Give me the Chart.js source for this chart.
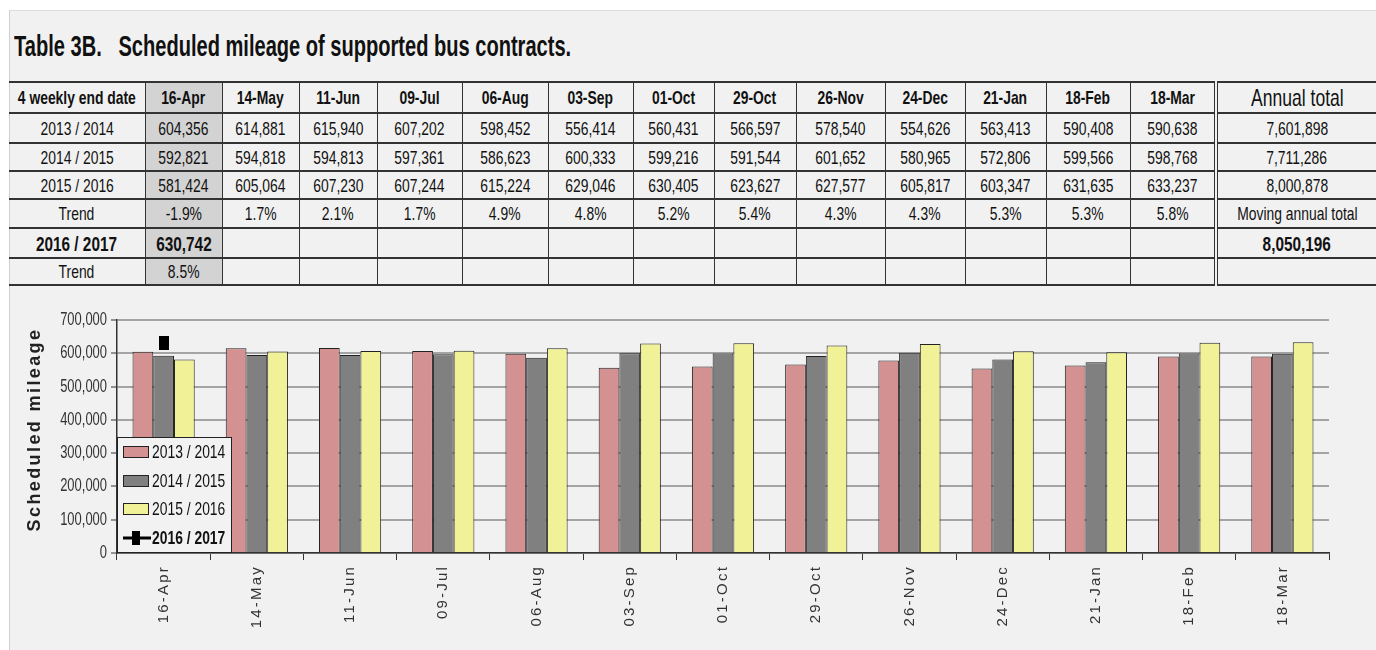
<!DOCTYPE html>
<html lang="en">
<head>
    <meta charset="UTF-8">
    <title>Table 3B. Scheduled mileage of supported bus contracts</title>
    <script src="https://cdn.jsdelivr.net/npm/chart.js"></script>
    <style>
        body { margin: 0; background: #fff; width: 1376px; height: 650px; overflow: hidden; position: relative;
               font-family: 'Liberation Sans', Arial, sans-serif; }
        .panel { position: absolute; left: 9px; top: 10px; right: 0; bottom: 0; background: #f1f1f1;
                 border-left: 1px solid #cfcfcf; border-top: 1px solid #dcdcdc; }
        .title { position: absolute; left: 14px; top: 30px; font: bold 29px 'Liberation Sans', Arial, sans-serif;
                 color: #111; white-space: pre; transform-origin: left center; }
        table { position: absolute; left: 9px; top: 81px; width: 1367px; border-collapse: collapse; table-layout: fixed;
                font-size: 19px; color: #111; }
        td { border-top: 2px solid #333; border-bottom: 2px solid #333; border-left: 1px solid #333; text-align: center;
             padding: 0; white-space: nowrap; overflow: visible; line-height: 1; }
        td span { display: inline-block; transform: scaleX(0.73); margin: 0 -40px; }
        td:first-child { border-left: none; }
        td.total { border-left: 4px double #333; }
        td.shade { background: #d3d3d3; }
        tr.head td { font-weight: bold; }
        tr.head td.total { font-weight: normal; font-size: 24px; }
        .big { font-weight: bold; font-size: 21px; }
        .chart-container { position: absolute; left: 10px; top: 286px; width: 1366px; height: 364px; }
    </style>
</head>
<body>
    <div class="panel"></div>
    <div class="title" id="title">Table 3B.   Scheduled mileage of supported bus contracts.</div>
    <table id="dataTable"></table>
    <div class="chart-container">
        <canvas id="mileageChart"></canvas>
    </div>

    <script>
        // categories (4 weekly end dates)
        const categories = ['16-Apr', '14-May', '11-Jun', '09-Jul', '06-Aug', '03-Sep', '01-Oct', '29-Oct', '26-Nov', '24-Dec', '21-Jan', '18-Feb', '18-Mar'];

        // scheduled mileage per year
        const y2013 = [604356, 614881, 615940, 607202, 598452, 556414, 560431, 566597, 578540, 554626, 563413, 590408, 590638];
        const y2014 = [592821, 594818, 594813, 597361, 586623, 600333, 599216, 591544, 601652, 580965, 572806, 599566, 598768];
        const y2015 = [581424, 605064, 607230, 607244, 615224, 629046, 630405, 623627, 627577, 605817, 603347, 631635, 633237];
        const y2016 = [630742, null, null, null, null, null, null, null, null, null, null, null, null];

        const trend = ['-1.9%', '1.7%', '2.1%', '1.7%', '4.9%', '4.8%', '5.2%', '5.4%', '4.3%', '4.3%', '5.3%', '5.3%', '5.8%'];
        const trend2016 = ['8.5%'];
        const annualTotals = ['7,601,898', '7,711,286', '8,000,878'];
        const movingAnnualTotal = '8,050,196';

        const yearLabels = ['2013 / 2014', '2014 / 2015', '2015 / 2016', '2016 / 2017'];
        const yMax = 700000;
        const yStep = 100000;

        const colWidths = [136, 77, 77, 78, 85, 86, 85, 81, 82, 89, 80, 81, 84, 86, 160];
        const rowHeights = [31, 30, 28, 28, 29, 30, 27];

        // squeeze the title to the width of the original
        const title = document.getElementById('title');
        title.style.transform = 'scaleX(' + (557 / title.offsetWidth) + ')';

        // ---- table ----
        const fmt = v => v.toLocaleString('en-US');
        function cell(text, i, extra) {
            let cls = [];
            if (i === 0) cls.push('shade');
            if (extra) cls.push(extra);
            return `<td class="${cls.join(' ')}"><span>${text}</span></td>`;
        }
        let html = '<colgroup>' + colWidths.map(w => `<col style="width:${w}px">`).join('') + '</colgroup>';
        html += `<tr class="head" style="height:${rowHeights[0]}px"><td><span>4 weekly end date</span></td>` +
            categories.map((c, i) => cell(c, i)).join('') + '<td class="total"><span>Annual total</span></td></tr>';
        [y2013, y2014, y2015].forEach((arr, r) => {
            html += `<tr style="height:${rowHeights[r + 1]}px"><td><span>${yearLabels[r]}</span></td>` +
                arr.map((v, i) => cell(fmt(v), i)).join('') + `<td class="total"><span>${annualTotals[r]}</span></td></tr>`;
        });
        html += `<tr style="height:${rowHeights[4]}px"><td><span>Trend</span></td>` + trend.map((t, i) => cell(t, i)).join('') +
            '<td class="total"><span>Moving annual total</span></td></tr>';
        html += `<tr style="height:${rowHeights[5]}px"><td class="big"><span>${yearLabels[3]}</span></td>` +
            y2016.map((v, i) => cell(v == null ? '' : fmt(v), i, v == null ? '' : 'big')).join('') +
            `<td class="total big"><span>${movingAnnualTotal}</span></td></tr>`;
        html += `<tr style="height:${rowHeights[6]}px"><td><span>Trend</span></td>` +
            categories.map((c, i) => cell(trend2016[i] || '', i)).join('') + '<td class="total"></td></tr>';
        document.getElementById('dataTable').innerHTML = html;

        // ---- chart ----
        const sans = "'Liberation Sans', Arial, sans-serif";
        const colors = ['#d39191', '#808080', '#f1f197'];

        // narrow text: Liberation Sans squeezed like the condensed original
        function narrowText(ctx, text, x, y, align, font, sx) {
            ctx.save();
            ctx.font = font;
            ctx.textAlign = align;
            ctx.textBaseline = 'middle';
            ctx.translate(x, y);
            ctx.scale(sx || 0.73, 1);
            ctx.fillText(text, 0, 0);
            ctx.restore();
        }

        // tall black marker like the original
        const marker = document.createElement('canvas');
        marker.width = 10; marker.height = 14;
        const mctx = marker.getContext('2d');
        mctx.fillStyle = '#000';
        mctx.fillRect(0, 0, 10, 14);

        // axis texts: x labels and y title have letter spacing, y ticks are narrow
        const textPlugin = {
            id: 'axisText',
            afterDraw(chart) {
                const ctx = chart.ctx;
                const xs = chart.scales.x;
                const ys = chart.scales.y;
                const area = chart.chartArea;
                ctx.save();
                ctx.fillStyle = '#333';
                ys.ticks.forEach(t => {
                    narrowText(ctx, fmt(t.value), area.left - 10, ys.getPixelForValue(t.value), 'right', '18px ' + sans, 0.72);
                });
                ctx.font = '15px ' + sans;
                ctx.letterSpacing = '2.2px';
                ctx.textAlign = 'right';
                ctx.textBaseline = 'middle';
                categories.forEach((c, i) => {
                    ctx.save();
                    ctx.translate(xs.getPixelForValue(i), area.bottom + 12);
                    ctx.rotate(-Math.PI / 2);
                    ctx.fillText(c, 0, 0);
                    ctx.restore();
                });
                ctx.font = 'bold 18px ' + sans;
                ctx.letterSpacing = '2.4px';
                ctx.textAlign = 'center';
                ctx.fillStyle = '#222';
                ctx.translate(25, (area.top + area.bottom) / 2 - 7);
                ctx.rotate(-Math.PI / 2);
                ctx.fillText('Scheduled mileage', 0, 0);
                ctx.restore();
            }
        };

        // legend box sits inside the plot, bottom left
        const legendPlugin = {
            id: 'boxLegend',
            afterDraw(chart) {
                const ctx = chart.ctx;
                const area = chart.chartArea;
                const x = area.left, w = 115, h = 116, y = area.bottom - h;
                ctx.save();
                ctx.fillStyle = '#f2f2f2';
                ctx.fillRect(x, y, w, h);
                ctx.strokeStyle = '#222';
                ctx.lineWidth = 1;
                ctx.strokeRect(x + 0.5, y + 0.5, w - 1, h - 1);
                const rows = [15, 44, 72, 101];
                chart.data.datasets.forEach((ds, i) => {
                    const cy = y + rows[i];
                    let font = '19px ' + sans;
                    if (ds.type === 'line') {
                        ctx.strokeStyle = '#000';
                        ctx.lineWidth = 3;
                        ctx.beginPath();
                        ctx.moveTo(x + 6, cy);
                        ctx.lineTo(x + 34, cy);
                        ctx.stroke();
                        ctx.fillStyle = '#000';
                        ctx.fillRect(x + 15, cy - 7, 8, 14);
                        font = 'bold 19px ' + sans;
                    } else {
                        ctx.fillStyle = ds.backgroundColor;
                        ctx.fillRect(x + 6, cy - 6, 26, 12);
                        ctx.strokeStyle = '#222';
                        ctx.lineWidth = 1;
                        ctx.strokeRect(x + 6.5, cy - 5.5, 25, 11);
                    }
                    ctx.fillStyle = '#111';
                    narrowText(ctx, ds.label, x + 35, cy + 1, 'left', font, 0.73);
                });
                ctx.restore();
            }
        };

        const barSet = (label, data, color) => ({
            label: label,
            data: data,
            backgroundColor: color,
            borderColor: '#222',
            borderWidth: 1,
            categoryPercentage: 0.667,
            barPercentage: 1.0,
            order: 2
        });

        new Chart(document.getElementById('mileageChart').getContext('2d'), {
            type: 'bar',
            data: {
                labels: categories,
                datasets: [
                    barSet(yearLabels[0], y2013, colors[0]),
                    barSet(yearLabels[1], y2014, colors[1]),
                    barSet(yearLabels[2], y2015, colors[2]),
                    {
                        type: 'line',
                        label: yearLabels[3],
                        data: y2016,
                        borderColor: '#000',
                        backgroundColor: '#000',
                        borderWidth: 3,
                        pointStyle: marker,
                        order: 1
                    }
                ]
            },
            options: {
                responsive: true,
                maintainAspectRatio: false,
                animation: false,
                layout: { padding: { top: 34, right: 47, left: 0, bottom: 0 } },
                plugins: {
                    legend: { display: false },
                    tooltip: { enabled: false }
                },
                scales: {
                    x: {
                        afterFit: s => { s.height = 97; },
                        grid: { display: true, drawOnChartArea: false, drawTicks: true, tickLength: 7, tickColor: '#333', offset: true },
                        border: { color: '#333', width: 1.5 },
                        ticks: { display: false }
                    },
                    y: {
                        min: 0,
                        max: yMax,
                        afterFit: s => { s.width = 107; },
                        grid: { color: '#a4a4a4', lineWidth: 2, tickColor: '#333', tickLength: 6, tickWidth: 1 },
                        border: { color: '#333', width: 1.5 },
                        ticks: { display: false, stepSize: yStep }
                    }
                }
            },
            plugins: [textPlugin, legendPlugin]
        });
    </script>
</body>
</html>
